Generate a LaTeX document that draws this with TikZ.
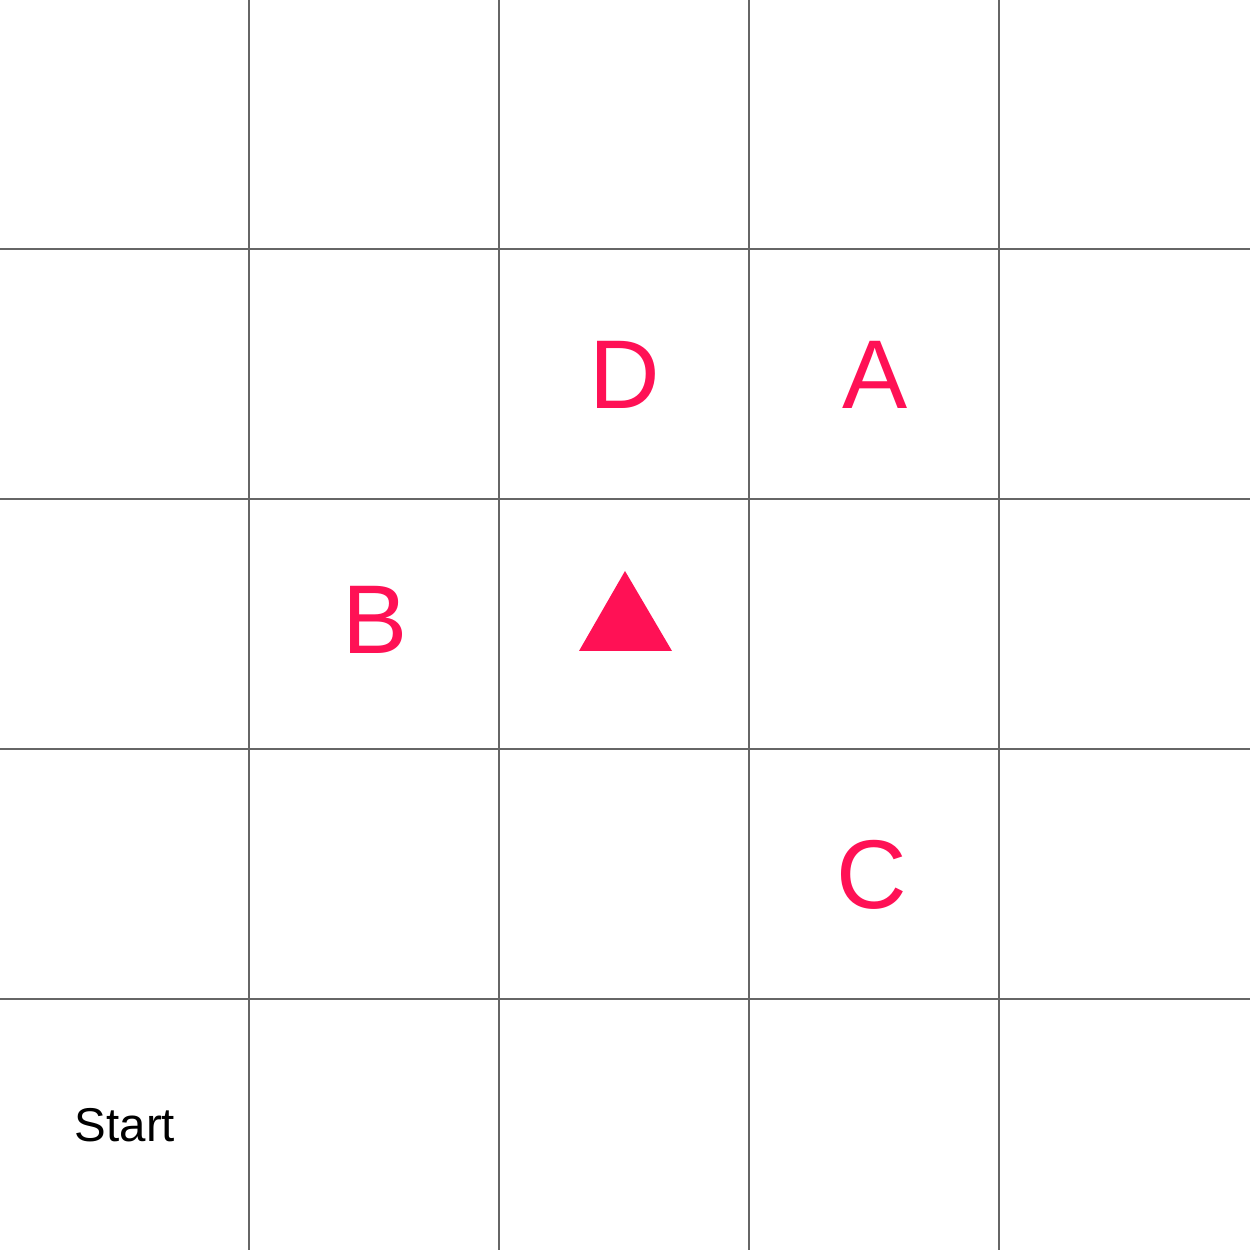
\documentclass[tikz,border=0pt]{standalone}
\usepackage{fontspec}
\setmainfont{Liberation Sans}
\usepackage{xcolor}
\usepackage{tikz}
\definecolor{markpink}{RGB}{255,17,85}
\definecolor{gridgray}{RGB}{102,102,102}

\begin{document}
\begin{tikzpicture}[
    cellmark/.style={text=markpink,font=\fontsize{27.8}{30}\selectfont,inner sep=0pt},
    startlabel/.style={text=black,font=\fontsize{13.5}{15}\selectfont,inner sep=0pt}
  ]
    \useasboundingbox (0,0) rectangle (12.5,12.5);
    \fill[white] (0,0) rectangle (12.5,12.5);
    \foreach \k in {2.5,5,7.5,10} {
      \draw[gridgray,line width=0.57pt] (\k-0.01,0) -- (\k-0.01,12.5);
      \draw[gridgray,line width=0.57pt] (0,12.5-\k+0.01) -- (12.5,12.5-\k+0.01);
    }
    \node[cellmark] (markD) at (6.25,8.75) {D};
    \node[cellmark] (markA) at (8.75,8.75) {A};
    \node[cellmark] (markB) at (3.75,6.30) {B};
    \node[cellmark] (markC) at (8.72,3.75) {C};
    \node[startlabel] (start) at (1.25,1.25) {Start};
    \fill[markpink] (6.25,6.79) -- (6.72,5.99) -- (5.79,5.99) -- cycle;
  \end{tikzpicture}
\end{document}
